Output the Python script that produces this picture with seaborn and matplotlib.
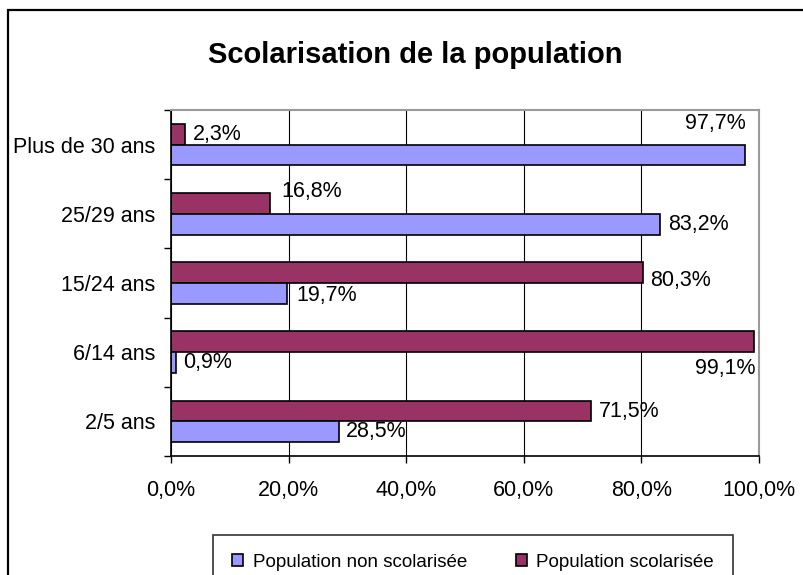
import pandas as pd
import matplotlib.pyplot as plt
import seaborn as sns
from matplotlib.patches import Patch, Rectangle
from matplotlib.ticker import FuncFormatter, FixedLocator

categories = ['Plus de 30 ans', '25/29 ans', '15/24 ans', '6/14 ans', '2/5 ans']
non_scolarisee = [97.7, 83.2, 19.7, 0.9, 28.5]
scolarisee = [2.3, 16.8, 80.3, 99.1, 71.5]
series_names = ['Population non scolarisée', 'Population scolarisée']
colors = {'Population non scolarisée': '#9999FF', 'Population scolarisée': '#993366'}

df = pd.DataFrame({
    'age': categories * 2,
    'serie': [series_names[0]] * 5 + [series_names[1]] * 5,
    'valeur': non_scolarisee + scolarisee,
})

sns.set_style('white')
plt.rcParams['font.family'] = ['Liberation Sans', 'DejaVu Sans']
plt.rcParams['text.color'] = 'black'
plt.rcParams['xtick.color'] = 'black'
plt.rcParams['ytick.color'] = 'black'

fig = plt.figure(figsize=(8.04, 5.75), dpi=100)
ax = fig.add_axes([171 / 804, 1 - 456 / 575, 588 / 804, 346 / 575])

sns.barplot(data=df, x='valeur', y='age', hue='serie', order=categories,
            hue_order=[series_names[1], series_names[0]], palette=colors,
            orient='h', width=0.6, edgecolor='black', linewidth=1.2,
            saturation=1, legend=False, ax=ax)

ax.set_xlim(0, 100)
ax.set_ylim(4.5, -0.5)
ax.set_xlabel('')
ax.set_ylabel('')
ax.set_xticks([0, 20, 40, 60, 80, 100])
ax.xaxis.set_major_formatter(FuncFormatter(lambda v, p: f'{v:.1f}%'.replace('.', ',')))
ax.grid(axis='x', color='black', linewidth=0.8)
ax.set_axisbelow(True)

# category ticks on boundaries, labels at centers
ax.yaxis.set_major_locator(FixedLocator([i - 0.5 for i in range(6)]))
ax.yaxis.set_minor_locator(FixedLocator(list(range(5))))
ax.set_yticklabels([], minor=False)
ax.set_yticklabels(categories, minor=True)
ax.tick_params(axis='y', which='major', direction='out', length=5, width=1, color='black', left=True)
ax.tick_params(axis='y', which='minor', length=0, labelsize=15.5, pad=11)
ax.tick_params(axis='x', direction='out', length=5, width=1, color='black', bottom=True,
               labelsize=15.5, pad=12)

for side in ['left', 'bottom']:
    ax.spines[side].set_color('black')
    ax.spines[side].set_linewidth(1.2)
for side in ['top', 'right']:
    ax.spines[side].set_color('#9a9a9a')
    ax.spines[side].set_linewidth(1.5)

# label offsets in pixels (dx, dy, ha)
offsets_sco = [(8, 0, 'left'), (12, 12, 'left'), (7, -8, 'left'), (2, -27, 'right'), (7, 0, 'left')]
offsets_non = [(0, 31, 'right'), (8, 0, 'left'), (10, -2, 'left'), (7, 0, 'left'), (7, 0, 'left')]

for container, values, offs in zip(ax.containers, [scolarisee, non_scolarisee], [offsets_sco, offsets_non]):
    for bar, v, (dx, dy, ha) in zip(container, values, offs):
        yc = bar.get_y() + bar.get_height() / 2
        ax.annotate(f'{v:.1f}%'.replace('.', ','), xy=(v, yc), xytext=(dx, dy),
                    textcoords='offset pixels', ha=ha, va='center', fontsize=15.5)

fig.text(0.517, 1 - 55 / 575, 'Scolarisation de la population', ha='center', va='center',
         fontsize=21, fontweight='bold')

handles = [Patch(facecolor=colors[n], edgecolor='black', linewidth=1.2) for n in series_names]
leg = fig.legend(handles, series_names, loc='upper center', bbox_to_anchor=(473 / 804, 1 - 535 / 575),
                 ncol=2, fontsize=13.5, frameon=True, fancybox=False, edgecolor='black',
                 handlelength=0.6, handleheight=0.6, handletextpad=0.5, columnspacing=2.6,
                 borderpad=1.0, borderaxespad=0)
leg.get_frame().set_linewidth(1.2)

fig.patches.append(Rectangle((8 / 804, -0.05), 1.1, 1 - 10 / 575 + 0.05, transform=fig.transFigure,
                             fill=False, edgecolor='black', linewidth=1.6))

fig.savefig('out.png', dpi=100)
